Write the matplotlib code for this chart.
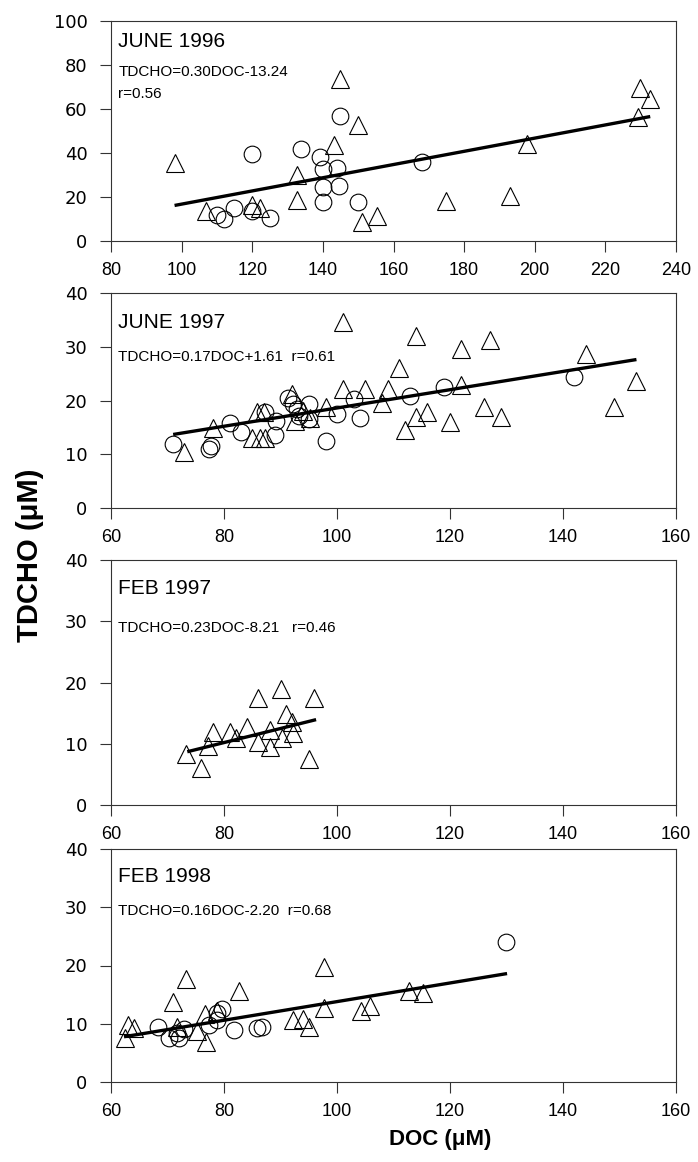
import matplotlib
matplotlib.use("Agg")
import matplotlib.pyplot as plt
import numpy as np

plt.rcParams['font.family'] = ['Liberation Sans', 'DejaVu Sans']

# ---------------- data ----------------
# JUNE 1996
j96_tri_doc = [98.1, 144.9, 149.9, 143.1, 132.8, 132.8, 107.0, 120.0, 122.1, 151.1, 155.2, 174.9, 192.9, 197.9, 229.9, 232.7, 229.3]
j96_tri_cho = [35.4, 73.5, 52.8, 43.5, 30.2, 18.5, 13.5, 16.3, 14.8, 8.6, 11.2, 18.2, 20.5, 44.3, 69.7, 64.6, 56.3]
j96_cir_doc = [120.0, 144.9, 133.9, 139.2, 139.9, 144.0, 144.7, 139.9, 139.9, 149.9, 168.0, 109.9, 112.0, 114.9, 120.0, 125.0]
j96_cir_cho = [39.7, 56.9, 42.0, 38.2, 32.8, 33.1, 25.1, 24.6, 17.8, 17.7, 35.8, 12.0, 10.2, 15.0, 13.5, 10.5]
j96_fit = (0.30, -13.24, 98.0, 232.7)

# JUNE 1997
j97_tri_doc = [101, 114, 127, 122, 144, 111, 153, 122, 101, 105, 109, 108, 126, 149, 116, 114, 129, 120, 112, 73,
               92, 98, 85.9, 87, 78, 85, 86.3, 87.3, 95.3, 94, 92.5]
j97_tri_cho = [34.6, 32.0, 31.2, 29.5, 28.6, 26.1, 23.6, 22.8, 22.1, 22.1, 22.1, 19.5, 18.7, 18.7, 17.8, 17.0, 17.0, 16.0, 14.6, 10.4,
               21.2, 18.7, 17.8, 17.9, 14.8, 13.0, 13.0, 13.0, 16.7, 18.1, 16.2]
j97_cir_doc = [71, 77.3, 77.7, 81, 83, 89, 89.2, 91.3, 92.3, 93, 95, 95, 98, 100, 103, 104, 113, 119, 142, 87.3, 93.3]
j97_cir_cho = [11.9, 11.0, 11.6, 15.8, 14.1, 13.5, 16.2, 20.4, 19.3, 18.5, 19.3, 16.5, 12.5, 17.5, 20.2, 16.7, 20.9, 22.6, 24.3, 17.8, 17.2]
j97_fit = (0.17, 1.61, 71.0, 153.0)

# FEB 1997
f97_tri_doc = [73.2, 76.0, 77.2, 78.1, 81.0, 82.1, 84.0, 86.1, 86.0, 88.1, 88.1, 90.1, 90.2, 91.0, 92.1, 92.3, 96.0, 95.0]
f97_tri_cho = [8.3, 6.1, 9.7, 12.0, 12.0, 10.9, 12.7, 17.5, 10.3, 12.2, 9.4, 18.9, 10.9, 14.8, 13.6, 11.7, 17.5, 7.5]
f97_fit = (0.23, -8.21, 73.5, 96.3)

# FEB 1998
f98_tri_doc = [97.7, 73.3, 82.7, 71.0, 112.7, 115.2, 97.7, 105.9, 104.3, 92.3, 94.0, 95.0, 76.7, 63.0, 64.1, 62.5, 71.7, 75.3, 76.8, 78.7]
f98_tri_cho = [19.7, 17.7, 15.6, 13.7, 15.6, 15.2, 12.7, 13.0, 12.2, 10.7, 10.9, 9.4, 11.7, 9.8, 9.2, 7.5, 9.5, 8.7, 6.9, 12.2]
f98_cir_doc = [129.9, 68.3, 70.3, 71.7, 72.1, 73.0, 77.3, 78.7, 79.7, 78.8, 81.7, 85.9, 86.8]
f98_cir_cho = [24.1, 9.4, 7.5, 8.4, 7.5, 9.1, 9.8, 10.7, 12.6, 11.9, 9.0, 9.2, 9.4]
f98_fit = (0.16, -2.20, 62.3, 130.1)

panel_titles = ['JUNE 1996', 'JUNE 1997', 'FEB 1997', 'FEB 1998']
panel_eqs = ['TDCHO=0.30DOC-13.24\nr=0.56', 'TDCHO=0.17DOC+1.61  r=0.61',
             'TDCHO=0.23DOC-8.21   r=0.46', 'TDCHO=0.16DOC-2.20  r=0.68']

panels = [
    dict(tri=(j96_tri_doc, j96_tri_cho), cir=(j96_cir_doc, j96_cir_cho), fit=j96_fit,
         xlim=(80, 240), xticks=np.arange(80, 241, 20), ylim=(0, 100), yticks=np.arange(0, 101, 20)),
    dict(tri=(j97_tri_doc, j97_tri_cho), cir=(j97_cir_doc, j97_cir_cho), fit=j97_fit,
         xlim=(60, 160), xticks=np.arange(60, 161, 20), ylim=(0, 40), yticks=np.arange(0, 41, 10)),
    dict(tri=(f97_tri_doc, f97_tri_cho), cir=None, fit=f97_fit,
         xlim=(60, 160), xticks=np.arange(60, 161, 20), ylim=(0, 40), yticks=np.arange(0, 41, 10)),
    dict(tri=(f98_tri_doc, f98_tri_cho), cir=(f98_cir_doc, f98_cir_cho), fit=f98_fit,
         xlim=(60, 160), xticks=np.arange(60, 161, 20), ylim=(0, 40), yticks=np.arange(0, 41, 10)),
]

W, H = 698, 1162
fig = plt.figure(figsize=(W / 100, H / 100), dpi=100)

# axes boxes in pixels: (top, bottom)
left_px, right_px = 111, 676
boxes = [(21, 241), (293, 508), (560, 805), (849, 1082)]
title_frac = [0.095, 0.136, 0.115, 0.12]
eq_frac = [0.234, 0.296, 0.277, 0.265]

for i, (p, (top, bot)) in enumerate(zip(panels, boxes)):
    ax = fig.add_axes([left_px / W, 1 - bot / H, (right_px - left_px) / W, (bot - top) / H])
    a, b, x0, x1 = p['fit']
    xs = np.array([x0, x1])
    ax.plot(xs, a * xs + b, color='black', lw=2.4, zorder=2, solid_capstyle='butt')
    if p['cir'] is not None:
        ax.plot(p['cir'][0], p['cir'][1], linestyle='none', marker='o', ms=12, mfc='none',
                mec='black', mew=0.8, zorder=3)
    ax.plot(p['tri'][0], p['tri'][1], linestyle='none', marker='^', ms=12.5, mfc='none',
            mec='black', mew=0.8, zorder=3)
    ax.set_xlim(*p['xlim'])
    ax.set_ylim(*p['ylim'])
    ax.set_xticks(p['xticks'])
    ax.set_yticks(p['yticks'])
    ax.tick_params(axis='both', direction='out', length=8, width=0.8, color='#333333')
    ax.tick_params(axis='x', labelsize=13, pad=7)
    ax.tick_params(axis='y', labelsize=13, pad=9)
    for lab in ax.get_yticklabels():
        lab.set_family('DejaVu Sans')
    for sp in ax.spines.values():
        sp.set_linewidth(0.8)
        sp.set_color('#333333')
    ax.text(0.013, 1 - title_frac[i], panel_titles[i], transform=ax.transAxes,
            fontsize=15, ha='left', va='center')
    if i == 0:
        lines = panel_eqs[i].split('\n')
        ax.text(0.013, 1 - eq_frac[i], lines[0], transform=ax.transAxes,
                fontsize=11, ha='left', va='center')
        ax.text(0.013, 1 - 0.334, lines[1], transform=ax.transAxes,
                fontsize=11, ha='left', va='center')
    else:
        ax.text(0.013, 1 - eq_frac[i], panel_eqs[i], transform=ax.transAxes,
                fontsize=11, ha='left', va='center')

fig.text(440 / W, 1 - 1139 / H, 'DOC (\u03bcM)', fontsize=16, fontweight='bold',
         ha='center', va='center')
fig.text(30 / W, 1 - 555 / H, 'TDCHO (\u03bcM)', fontsize=21, fontweight='bold',
         ha='center', va='center', rotation=90)

fig.savefig('out.png', dpi=100)
